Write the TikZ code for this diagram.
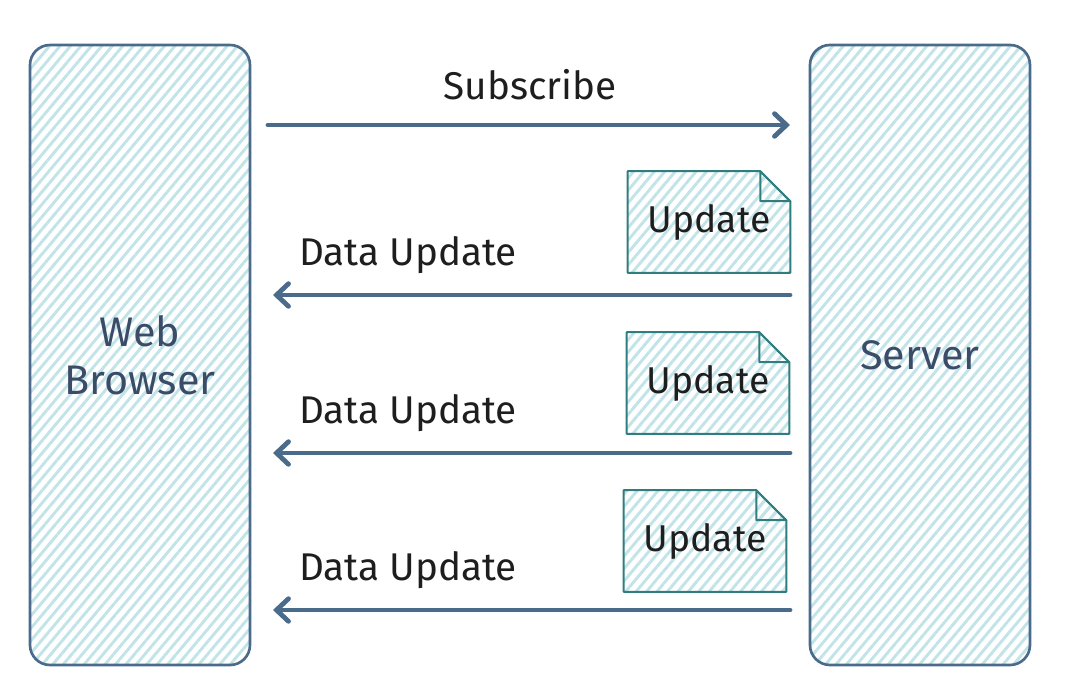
\documentclass[tikz,border=0pt]{standalone}
\usepackage{fontspec}
\setmainfont{Fira Sans}
\usetikzlibrary{positioning, patterns.meta, arrows.meta, backgrounds}

\definecolor{edgeblue}{HTML}{4A6B8A}
\definecolor{hatchcyan}{HTML}{C2E4E8}
\definecolor{noteteal}{HTML}{2F7D7F}
\definecolor{inkgray}{HTML}{1E1E1E}
\definecolor{labelblue}{HTML}{3A4C68}

\begin{document}
\begin{tikzpicture}[x=0.75pt, y=-0.75pt,
		lane/.style={draw=edgeblue, line width=2pt, rounded corners=15pt,
			pattern={Lines[angle=50, distance=6pt, line width=2.2pt]}, pattern color=hatchcyan,
			minimum width=165pt, minimum height=465pt, align=center, text=labelblue,
			font=\fontsize{31}{36}\selectfont},
		notebox/.style={draw=noteteal, line width=1.5pt, line join=round,
			pattern={Lines[angle=50, distance=6pt, line width=2.2pt]}, pattern color=hatchcyan},
		note/.style={minimum width=121.5pt, minimum height=75.75pt, text=inkgray,
			font=\fontsize{28}{32}\selectfont},
		lbl/.style={text=inkgray, font=\fontsize{29}{34}\selectfont},
		msg/.style={draw=edgeblue, line width=3.6pt, line cap=round,
			-{Straight Barb[length=9pt, width=17pt, line cap=round]}}]
	\useasboundingbox (0,0) rectangle (1068,690);

	% the two parties
	\node[lane] (browser) at (140,355) {Web\\Browser};
	\node[lane] (server) at (920,355) {Server};

	% subscription
	\coordinate (sub-a) at (268,125);
	\coordinate (sub-b) at (790,125);
	\draw[msg] (sub-a) -- (sub-b);
	\node[lbl] (subscribe) at (530,85) {Subscribe};

	% pushed updates
	\foreach[count=\i] \nx/\ny/\ay in {709/222/295, 708/383/453, 705/541/610} {
		\node[note] (note-\i) at (\nx,\ny) {Update};
		\begin{scope}[on background layer]
			\draw[notebox] (note-\i.north west) -- ([xshift=-22.5pt]note-\i.north east)
				-- ([yshift=-22.5pt]note-\i.north east) -- (note-\i.south east)
				-- (note-\i.south west) -- cycle;
			\draw[notebox]
				([xshift=-22.5pt]note-\i.north east) -- ([xshift=-22.5pt, yshift=-22.5pt]note-\i.north east)
				-- ([yshift=-22.5pt]note-\i.north east) -- cycle;
		\end{scope}
		\coordinate (out-\i) at (790,\ay);
		\coordinate (in-\i) at (273,\ay);
		\draw[msg] (out-\i) -- (in-\i);
		\node[lbl] (data-\i) at (408,\ay-40) {Data Update};
	}
\end{tikzpicture}
\end{document}
